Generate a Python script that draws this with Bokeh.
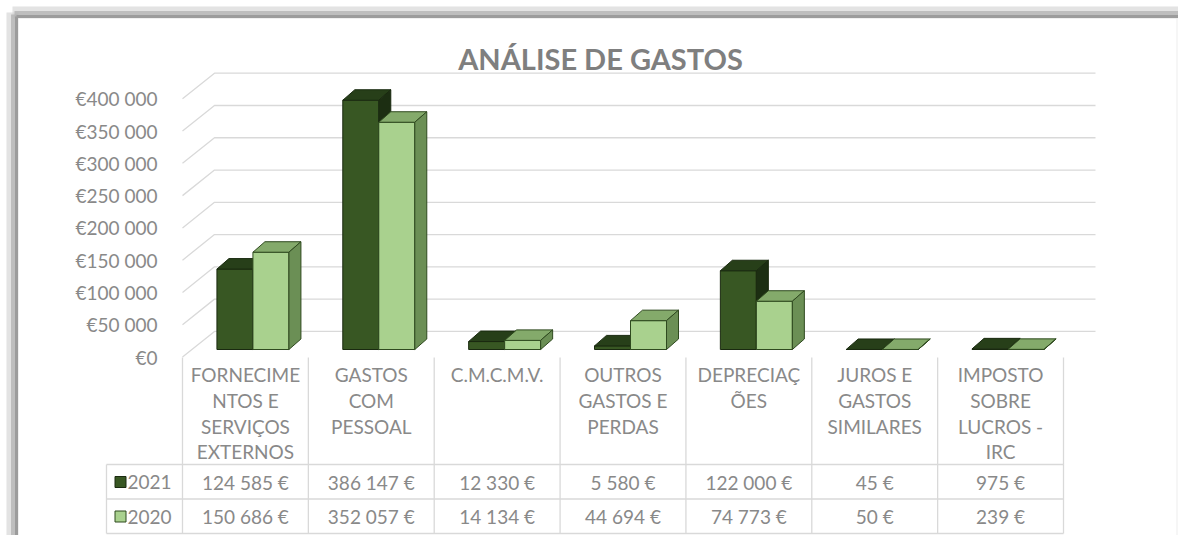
from bokeh.plotting import figure
from bokeh.models import Range1d
from bokeh.core.properties import value
from bokeh.embed import file_html
from bokeh.resources import INLINE

# ---------------- data ----------------
categories = [
    ["FORNECIME", "NTOS E", "SERVIÇOS", "EXTERNOS"],
    ["GASTOS", "COM", "PESSOAL"],
    ["C.M.C.M.V."],
    ["OUTROS", "GASTOS E", "PERDAS"],
    ["DEPRECIAÇ", "ÕES"],
    ["JUROS E", "GASTOS", "SIMILARES"],
    ["IMPOSTO", "SOBRE", "LUCROS -", "IRC"],
]
series_names = ["2021", "2020"]
values_2021 = [124585, 386147, 12330, 5580, 122000, 45, 975]
values_2020 = [150686, 352057, 14134, 44694, 74773, 50, 239]
y_ticks = [0, 50000, 100000, 150000, 200000, 250000, 300000, 350000, 400000]
y_tick_labels = ["€0", "€50 000", "€100 000", "€150 000", "€200 000",
                 "€250 000", "€300 000", "€350 000", "€400 000"]
title = "ANÁLISE DE GASTOS"

# ---------------- layout (page pixels) ----------------
W, H = 1178, 535
OX, OY = 0, 0
COL0 = 182.0
CW = (1063.0 - 182.0) / 7
Y0 = 356.5
PXV = 258.2 / 400000.0

def xd(px):
    return (px - COL0) / CW

def yd(py):
    return (Y0 - py) / PXV

n = len(categories)
DXF, DYF = 32 / CW, 25.6 / PXV        # floor depth
DXB, DYB = 12 / CW, 10.5 / PXV        # bar depth
BASE = 7.5 / PXV                       # bar front base above floor front
OFFX = 7.5 / CW                        # bar pair offset from column centre
BW = 36 / CW                           # bar width

FONT = value("Lato")
TXT = "#898989"
GRID = "#d9d9d9"

p = figure(width=W, height=H, output_backend="svg", toolbar_location=None,
           x_range=Range1d(xd(OX), xd(OX + W)), y_range=Range1d(yd(OY + H), yd(OY)),
           x_axis_location=None, y_axis_location=None,
           min_border=0, min_border_left=0, min_border_right=0,
           min_border_top=0, min_border_bottom=0)
p.grid.visible = False
p.outline_line_color = None
p.background_fill_color = "white"
p.border_fill_color = "white"

# ---------------- chart frame shadow ----------------
xr = xd(OX + W)
yb = yd(OY + H)
for w, c, a, pos in [(12, "#d0d0d0", 0.6, 12.0), (7, "#b4b4b4", 0.8, 14.0), (3, "#9c9c9c", 1.0, 16.0)]:
    p.line([xd(pos), xr], [yd(pos), yd(pos)], line_width=w, line_color=c, line_alpha=a)
    p.line([xd(pos), xd(pos)], [yd(pos), yb], line_width=w, line_color=c, line_alpha=a)
p.line([xd(1176.5), xd(1176.5)], [yd(18), yb], line_width=1, line_color="#ededed")

# ---------------- back wall gridlines + floor diagonals ----------------
gx = [[0, DXF, n + DXF] for _ in y_ticks]
gy = [[t, t + DYF, t + DYF] for t in y_ticks]
p.multi_line(gx, gy, line_color=GRID, line_width=1.3)

# ---------------- y tick labels ----------------
p.text(x=[xd(157)] * len(y_ticks), y=y_ticks, text=y_tick_labels,
       text_font=FONT, text_font_size="19px", text_color=TXT,
       text_align="right", text_baseline="middle")

# ---------------- 3D bars ----------------
styles = [
    dict(front="#385723", top="#273f19", side="#1c2e12", line="#1a2a10"),
    dict(front="#a9d18e", top="#84aa6b", side="#6b8f55", line="#2f4a1f"),
]
for s, vals in enumerate([values_2021, values_2020]):
    st = styles[s]
    lefts = [i + 0.5 + OFFX - BW + s * BW for i in range(n)]
    rights = [l + BW for l in lefts]
    tops = [BASE + v for v in vals]
    p.quad(left=lefts, right=rights, bottom=[BASE] * n, top=tops,
           fill_color=st["front"], line_color=st["line"], line_width=1)
    tx = [[l, r, r + DXB, l + DXB] for l, r in zip(lefts, rights)]
    ty = [[t, t, t + DYB, t + DYB] for t in tops]
    p.patches(tx, ty, fill_color=st["top"], line_color=st["line"], line_width=1)
    sx = [[r, r + DXB, r + DXB, r] for r in rights]
    sy = [[BASE, BASE + DYB, t + DYB, t] for t in tops]
    p.patches(sx, sy, fill_color=st["side"], line_color=st["line"], line_width=1)

# ---------------- data table ----------------
row_y = [yd(481.5), yd(516)]
vx = [[i, i] for i in range(n + 1)]
vy = [[yd(357), yd(533)] for _ in range(n + 1)]
p.multi_line(vx, vy, line_color=GRID, line_width=1.3)
hx = [[xd(106), n], [xd(106), n], [xd(106), n]]
hy = [[yd(464), yd(464)], [yd(498.5), yd(498.5)], [yd(533), yd(533)]]
p.multi_line(hx, hy, line_color=GRID, line_width=1.3)
p.line([xd(106), xd(106)], [yd(464), yd(533)], line_color=GRID, line_width=1.3)

# category labels
lx, ly, lt = [], [], []
for i, lines in enumerate(categories):
    for k, s in enumerate(lines):
        lx.append(i + 0.5)
        ly.append(yd(374 + k * 25.8))
        lt.append(s)
p.text(x=lx, y=ly, text=lt, text_font=FONT, text_font_size="19px",
       text_color=TXT, text_align="center", text_baseline="middle")

# legend keys + series names
p.rect(x=[xd(120)] * 2, y=row_y, width=11, height=11, width_units="screen",
       height_units="screen", fill_color=[styles[0]["front"], styles[1]["front"]],
       line_color=[styles[0]["line"], styles[1]["line"]], line_width=1)
p.text(x=[xd(127)] * 2, y=row_y, text=series_names, text_font=FONT,
       text_font_size="19px", text_color=TXT, text_align="left", text_baseline="middle")

def fmt(v):
    return f"{v:,}".replace(",", " ") + " €"

for r, vals in enumerate([values_2021, values_2020]):
    p.text(x=[i + 0.5 for i in range(n)], y=[row_y[r]] * n, text=[fmt(v) for v in vals],
           text_font=FONT, text_font_size="19px", text_color=TXT,
           text_align="center", text_baseline="middle")

# ---------------- title ----------------
p.text(x=[xd(600)], y=[yd(58)], text=[title], text_font=FONT, text_font_size="29px",
       text_font_style="bold", text_color="#7f7f7f", text_align="center",
       text_baseline="middle")

open("out.html", "w").write(file_html(p, INLINE))
